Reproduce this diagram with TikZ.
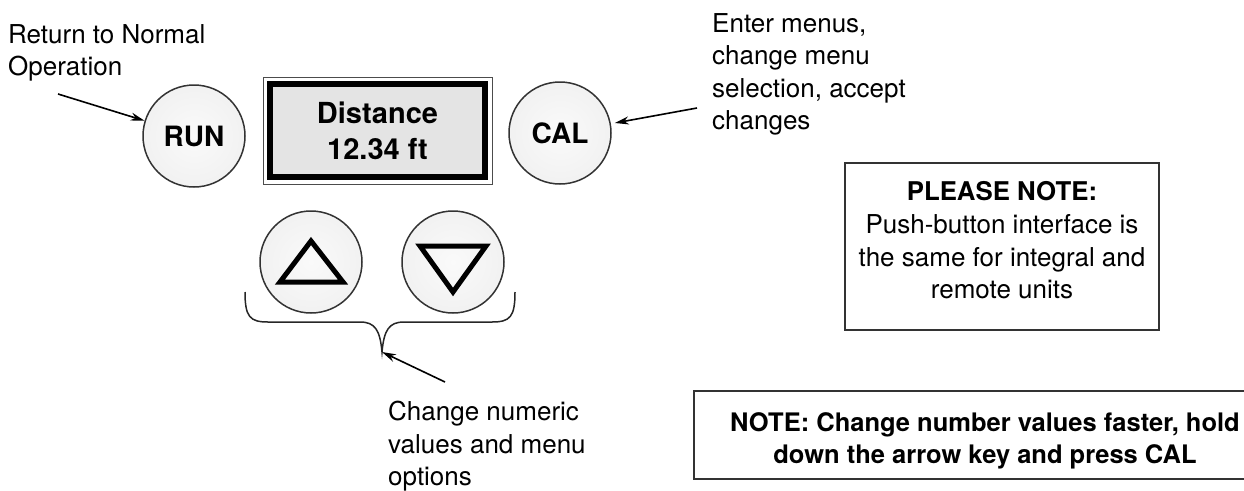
\documentclass[tikz,border=0pt]{standalone}
\usepackage{fontspec}
\setmainfont{TeX Gyre Heros}
\usetikzlibrary{arrows.meta,calc}
\pgfdeclareradialshading{btnshade}{\pgfpoint{0bp}{0bp}}{color(0bp)=(gray!4); color(30bp)=(gray!12); color(50bp)=(gray!24)}
\tikzset{
  btn/.style={circle, draw=black!80, line width=1.5pt, minimum size=102pt, inner sep=0pt,
    shading=btnshade, font=\fontsize{28}{30}\selectfont\bfseries},
  lbl/.style={anchor=north west, inner sep=0pt, align=left, font=\fontsize{26}{32.3}\selectfont},
  arr/.style={line width=1.6pt, -{Stealth[length=14pt,width=8pt]}},
  tri/.style={line width=5pt, line join=miter},
  notebox/.style={draw=black!80, line width=1.5pt},
  notetext/.style={anchor=north, inner sep=0pt, align=center}
}
\begin{document}
\begin{tikzpicture}[x=1pt,y=-1pt]
\useasboundingbox (0,0) rectangle (1244,490);
\clip (0,0) rectangle (1244,490);
% display
\node[draw=black!70, line width=1pt, minimum width=229pt, minimum height=107pt, inner sep=0pt] (dispout) at (377.5,130.5) {};
\node[draw=black, fill=gray!21, line width=6pt, minimum width=215pt, minimum height=93pt, inner sep=0pt,
  align=center, font=\fontsize{29}{36}\selectfont\bfseries] (disp) at (377.5,130.5) {Distance\\12.34 ft};
% buttons
\node[btn] (run) at (194,136) {RUN};
\node[btn] (cal) at (560,133) {CAL};
\node[btn] (up) at (311,262) {};
\node[btn] (down) at (453,262) {};
\draw[tri] (311,241) -- (280,282) -- (343,282) -- cycle;
\draw[tri] (420,246) -- (486,246) -- (453,292) -- cycle;
% brace
\coordinate (tip) at (382,352);
\draw[line width=1.5pt, black!85] (245,292) .. controls (245,317) and (250,322) .. (268,322) -- (360,322)
  .. controls (375,322) and (380,330) .. (tip) .. controls (384,330) and (389,322) .. (404,322) -- (492,322)
  .. controls (510,322) and (515,317) .. (515,292);
% labels
\node[lbl] (ret) at (8,24.3) {Return to Normal\\Operation};
\node[lbl] (enter) at (712,13.3) {Enter menus,\\change menu\\selection, accept\\changes};
\node[lbl] (chg) at (388,401.3) {Change numeric\\values and menu\\options};
% connectors
\coordinate (runfrom) at (58,94);
\coordinate (calfrom) at (697,108);
\coordinate (chgfrom) at (445,382);
\draw[arr] (runfrom) -- (run);
\draw[arr, shorten >=4pt] (calfrom) -- (cal);
\draw[arr] (chgfrom) -- (tip);
% notes
\draw[notebox] (845,163) rectangle (1159,330);
\node[notetext, font=\fontsize{26}{32.7}\selectfont] (pnote) at (1002,181.3)
  {{\bfseries\fontsize{25.8}{32.7}\selectfont PLEASE NOTE:}\\Push-button interface is\\the same for integral and\\remote units};
\draw[notebox] (694,391) rectangle (1262,479);
\node[notetext, font=\fontsize{25.5}{32}\selectfont\bfseries] (bnote) at (985,412.5)
  {NOTE: Change number values faster, hold\\down the arrow key and press CAL};
\end{tikzpicture}
\end{document}
